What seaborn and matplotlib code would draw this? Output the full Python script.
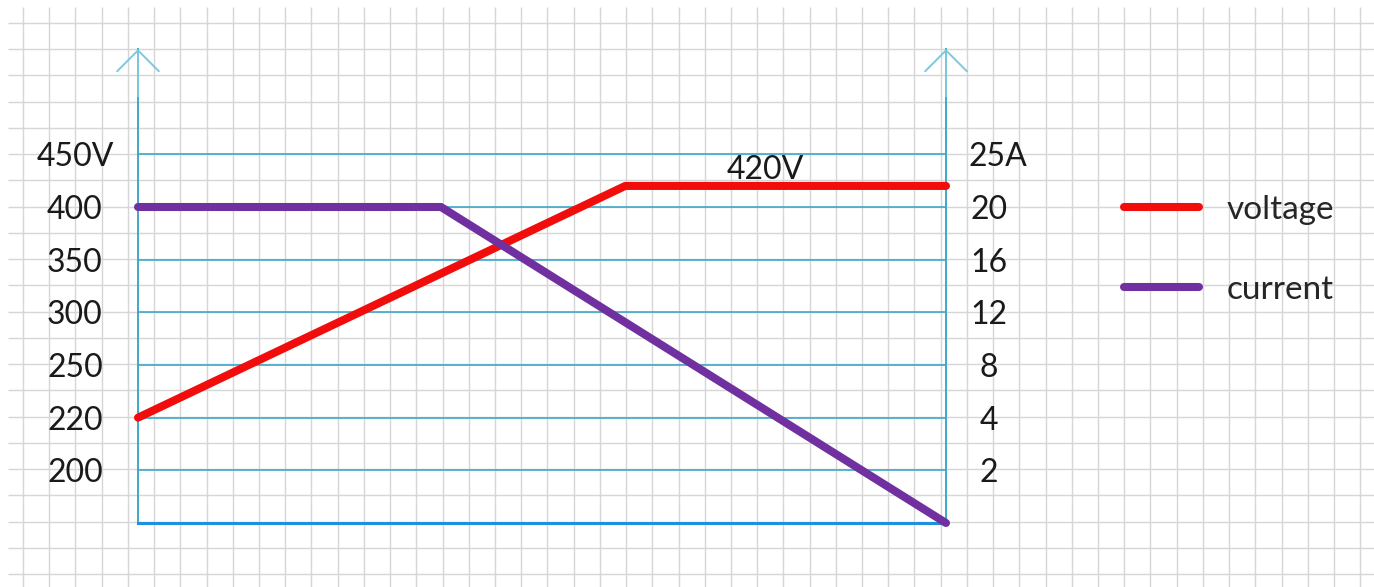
import numpy as np
import pandas as pd
import matplotlib
matplotlib.use("Agg")
import matplotlib.pyplot as plt
import matplotlib.transforms as mtransforms
import seaborn as sns

# ---------------- data ----------------
time_v = [0.0, 0.603, 1.0]          # fraction of charge time
voltage = [220, 420, 420]           # V
time_i = [0.0, 0.375, 1.0]
current = [20, 20, 0]               # A

v_ticks = [200, 220, 250, 300, 350, 400, 450]
v_labels = ["200", "220", "250", "300", "350", "400", "450V"]
i_ticks = [2, 4, 8, 12, 16, 20, 25]
i_labels = ["2", "4", "8", "12", "16", "20", "25A"]
series_names = ["voltage", "current"]
peak_label = "420V"

# schematic (piecewise) axis scales: equal spacing between tick values
v_scale_vals = [150] + v_ticks + [550]
i_scale_vals = [0] + i_ticks + [35]
levels = [0, 1, 2, 3, 4, 5, 6, 7, 9]

def make_funcs(vals):
    vals = np.asarray(vals, float)
    lv = np.asarray(levels, float)
    def fwd(x):
        return np.interp(x, vals, lv)
    def inv(y):
        return np.interp(y, lv, vals)
    return fwd, inv

# ---------------- style ----------------
sns.set_style("white")
plt.rcParams["font.family"] = ["Lato", "DejaVu Sans"]

W, H = 1374, 587
fig = plt.figure(figsize=(W / 100, H / 100), dpi=100, facecolor="white")

# graph-paper background
bg = fig.add_axes([0, 0, 1, 1], zorder=-5)
bg.set_xlim(0, W)
bg.set_ylim(H, 0)
bg.axis("off")
gx = 23 + 26.22 * np.arange(0, 52)
gy = 23 + 26.24 * np.arange(0, 22)
bg.vlines(gx, 7, H, color="#d6d6d6", lw=1.0)
bg.hlines(gy, 8, W, color="#d6d6d6", lw=1.0)

# main axes
left, right, bottom, top = 138, 946, 523, 49
ax = fig.add_axes([left / W, (H - bottom) / H, (right - left) / W, (bottom - top) / H])
ax.set_facecolor("none")
ax2 = ax.twinx()
ax2.set_facecolor("none")

ax.set_yscale("function", functions=make_funcs(v_scale_vals))
ax2.set_yscale("function", functions=make_funcs(i_scale_vals))
ax.set_ylim(v_scale_vals[0], v_scale_vals[-1])
ax2.set_ylim(i_scale_vals[0], i_scale_vals[-1])
ax.set_xlim(0, 1)

cyan = "#3fa8c8"
for a in (ax, ax2):
    for s in a.spines.values():
        s.set_visible(False)
ax.spines["left"].set_visible(True)
ax.spines["left"].set_color(cyan)
ax.spines["left"].set_linewidth(1.4)
ax.spines["right"].set_visible(True)
ax.spines["right"].set_color(cyan)
ax.spines["right"].set_linewidth(1.4)
ax.spines["bottom"].set_visible(True)
ax.spines["bottom"].set_color("#1f8fe0")
ax.spines["bottom"].set_linewidth(2.2)

ax.set_xticks([])
ax.set_yticks(v_ticks)
ax.set_yticklabels(v_labels)
ax.yaxis.set_minor_locator(matplotlib.ticker.NullLocator())
ax.tick_params(axis="y", length=0, pad=45.4, labelsize=23, labelcolor="#1a1a1a")
for t in ax.get_yticklabels():
    t.set_horizontalalignment("center")
ax.grid(axis="y", color=cyan, lw=1.2)
ax.grid(axis="x", visible=False)

ax2.set_yticks(i_ticks)
ax2.set_yticklabels(i_labels)
ax2.yaxis.set_minor_locator(matplotlib.ticker.NullLocator())
ax2.tick_params(axis="y", length=0, pad=31, labelsize=23, labelcolor="#1a1a1a")
for t in ax2.get_yticklabels():
    t.set_horizontalalignment("center")
lab25 = ax2.get_yticklabels()[-1]
lab25.set_horizontalalignment("left")
lab25.set_transform(lab25.get_transform() +
                    mtransforms.ScaledTranslation(-0.21, 0, fig.dpi_scale_trans))
ax2.grid(False)

# arrow heads on both vertical axes
for xa in (0, 1):
    ax.annotate("", xy=(xa, 1), xycoords="axes fraction",
                xytext=(xa, 0.9), textcoords="axes fraction",
                arrowprops=dict(arrowstyle="->,head_length=1.5,head_width=1.5",
                                color="#7cc9dd", lw=1.4, shrinkA=0, shrinkB=0,
                                mutation_scale=10))

# series
dv = pd.DataFrame({"t": time_v, "v": voltage})
di = pd.DataFrame({"t": time_i, "i": current})
sns.lineplot(data=dv, x="t", y="v", ax=ax, color="#f20d0d", linewidth=5.8,
             solid_capstyle="round", solid_joinstyle="round", clip_on=False,
             label=series_names[0], legend=False, zorder=5)
sns.lineplot(data=di, x="t", y="i", ax=ax2, color="#7030a0", linewidth=5.8,
             solid_capstyle="round", solid_joinstyle="round", clip_on=False,
             label=series_names[1], legend=False, zorder=5)
ax.set_xlabel("")
ax.set_ylabel("")
ax2.set_ylabel("")

ax.annotate(peak_label, xy=(0.776, voltage[-1]), xycoords="data",
            xytext=(0, 5), textcoords="offset points",
            ha="center", va="baseline", fontsize=23, color="#1a1a1a")

# legend
h1 = ax.get_lines()[0]
h2 = ax2.get_lines()[0]
fig.legend([h1, h2], series_names, loc="center left",
           bbox_to_anchor=(1124 / W, (H - 249.5) / H), frameon=False,
           fontsize=24, handlelength=2.25, handletextpad=0.82,
           labelspacing=1.5, borderpad=0, borderaxespad=0)

fig.savefig("out.png", dpi=100, facecolor="white")
